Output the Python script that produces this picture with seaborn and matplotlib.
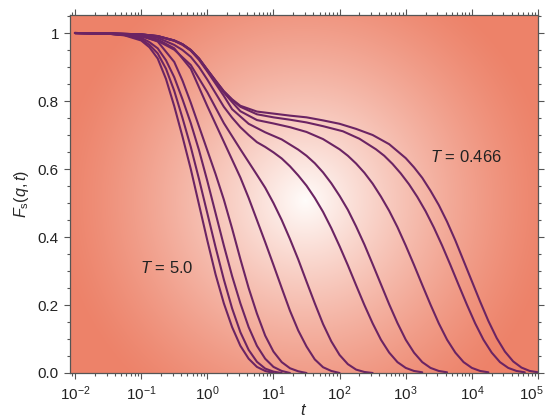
import numpy as np
import pandas as pd
import matplotlib
matplotlib.use("Agg")
import matplotlib.pyplot as plt
import matplotlib.ticker as mticker
import matplotlib.transforms as mtransforms
import seaborn as sns

# ── Data ─────────────────────────────────────────────────────────────────────
# x is stored as log10(t); y is F_s(q,t). One pair of arrays per temperature.
TEMPS = ["5.0", "4.0", "3.0", "2.0", "1.0", "0.8", "0.6", "0.55", "0.5", "0.475", "0.466"]

LOGT_T500 = [-2.0, -1.5, -1.25, -1.0, -0.875, -0.75, -0.625, -0.5, -0.375, -0.25, -0.125,
             0.0, 0.125, 0.25, 0.375, 0.5, 0.625, 0.75, 0.875, 1.0]
FS_T500 = [1.0, 0.998, 0.993, 0.978, 0.958, 0.925, 0.865, 0.785, 0.695, 0.60, 0.495,
           0.39, 0.29, 0.205, 0.135, 0.08, 0.042, 0.018, 0.006, 0.0]

LOGT_T400 = [-2.0, -1.5, -1.25, -1.0, -0.875, -0.75, -0.625, -0.5, -0.375, -0.25, -0.125,
             0.0, 0.125, 0.25, 0.375, 0.5, 0.625, 0.75, 0.875, 1.0, 1.125]
FS_T400 = [1.0, 0.998, 0.994, 0.982, 0.965, 0.94, 0.895, 0.83, 0.75, 0.665, 0.57,
           0.47, 0.37, 0.275, 0.19, 0.12, 0.068, 0.033, 0.013, 0.004, 0.0]

LOGT_T300 = [-2.0, -1.5, -1.25, -1.0, -0.875, -0.75, -0.625, -0.5, -0.375, -0.25, -0.125,
             0.0, 0.125, 0.25, 0.375, 0.5, 0.625, 0.75, 0.875, 1.0, 1.125, 1.25]
FS_T300 = [1.0, 0.999, 0.995, 0.986, 0.973, 0.955, 0.92, 0.87, 0.805, 0.735, 0.655,
           0.565, 0.47, 0.375, 0.285, 0.205, 0.135, 0.08, 0.042, 0.018, 0.006, 0.0]

LOGT_T200 = [-2.0, -1.5, -1.25, -1.0, -0.75, -0.5, -0.375, -0.25, -0.125, 0.0, 0.125,
             0.25, 0.375, 0.5, 0.625, 0.75, 0.875, 1.0, 1.125, 1.25, 1.375, 1.5]
FS_T200 = [1.0, 0.998, 0.996, 0.992, 0.975, 0.915, 0.86, 0.795, 0.725, 0.655, 0.585,
           0.51, 0.425, 0.335, 0.25, 0.175, 0.11, 0.063, 0.032, 0.014, 0.005, 0.0]

LOGT_T100 = [-2.0, -1.5, -1.0, -0.75, -0.5, -0.25, 0.0, 0.25, 0.5, 0.625, 0.75,
             0.875, 1.0, 1.125, 1.25, 1.375, 1.5, 1.625, 1.75, 1.875, 2.0]
FS_T100 = [1.0, 0.998, 0.992, 0.981, 0.955, 0.895, 0.785, 0.68, 0.575, 0.515, 0.45,
           0.385, 0.318, 0.25, 0.183, 0.125, 0.078, 0.04, 0.017, 0.006, 0.0]

LOGT_T080 = [-2.0, -1.5, -1.0, -0.75, -0.5, -0.25, 0.0, 0.25, 0.5, 0.75, 0.875, 1.0,
             1.125, 1.25, 1.375, 1.5, 1.625, 1.75, 1.875, 2.0, 2.125, 2.25, 2.375, 2.5]
FS_T080 = [1.0, 0.998, 0.990, 0.977, 0.951, 0.906, 0.826, 0.735, 0.658, 0.583, 0.545, 0.50,
           0.450, 0.394, 0.334, 0.269, 0.205, 0.144, 0.093, 0.053, 0.026, 0.010, 0.003, 0.0]

LOGT_T060 = [-2.0, -1.5, -1.0, -0.75, -0.5, -0.375, -0.25, -0.125, 0.0, 0.125, 0.25,
             0.375, 0.5, 0.625, 0.75, 0.875, 1.0, 1.125, 1.25, 1.375, 1.5, 1.625,
             1.75, 1.875, 2.0, 2.125, 2.25, 2.375, 2.5, 2.625, 2.75, 2.875, 3.0, 3.125, 3.25]
FS_T060 = [1.0, 0.999, 0.995, 0.986, 0.965, 0.950, 0.930, 0.900, 0.863, 0.823, 0.783,
           0.751, 0.723, 0.700, 0.679, 0.665, 0.649, 0.631, 0.608, 0.581, 0.551, 0.515,
           0.474, 0.426, 0.373, 0.317, 0.258, 0.200, 0.146, 0.098, 0.060, 0.032, 0.015, 0.006, 0.002]

LOGT_T055 = [-2.0, -1.5, -1.0, -0.75, -0.5, -0.375, -0.25, -0.125, 0.0, 0.125, 0.25,
             0.375, 0.625, 0.875, 1.125, 1.375, 1.5, 1.625, 1.75, 1.875, 2.0, 2.125,
             2.25, 2.375, 2.5, 2.625, 2.75, 2.875, 3.0, 3.125, 3.25, 3.375, 3.5, 3.625]
FS_T055 = [1.0, 0.999, 0.996, 0.990, 0.977, 0.965, 0.948, 0.921, 0.887, 0.851, 0.815,
           0.776, 0.733, 0.708, 0.687, 0.657, 0.639, 0.617, 0.590, 0.558, 0.521, 0.480,
           0.431, 0.378, 0.320, 0.261, 0.202, 0.147, 0.098, 0.060, 0.032, 0.015, 0.006, 0.002]

LOGT_T050 = [-2.0, -1.5, -1.0, -0.75, -0.5, -0.375, -0.25, -0.125, 0.0, 0.125, 0.25,
             0.375, 0.5, 0.75, 1.0, 1.25, 1.5, 1.75, 2.0, 2.125, 2.25, 2.375, 2.5,
             2.625, 2.75, 2.875, 3.0, 3.125, 3.25, 3.375, 3.5, 3.625, 3.75, 3.875,
             4.0, 4.125, 4.25]
FS_T050 = [1.0, 0.999, 0.996, 0.991, 0.978, 0.967, 0.95, 0.924, 0.891, 0.858, 0.825,
           0.797, 0.770, 0.744, 0.734, 0.723, 0.709, 0.688, 0.658, 0.639, 0.616, 0.589, 0.557,
           0.519, 0.477, 0.429, 0.375, 0.318, 0.259, 0.201, 0.146, 0.098, 0.060, 0.032,
           0.015, 0.006, 0.002]

LOGT_T0475 = [-2.0, -1.5, -1.0, -0.75, -0.5, -0.375, -0.25, -0.125, 0.0, 0.125, 0.25,
              0.375, 0.5, 0.75, 1.0, 1.25, 1.5, 1.75, 2.05, 2.3, 2.55, 2.675, 2.8,
              2.925, 3.05, 3.175, 3.3, 3.425, 3.55, 3.675, 3.8, 3.925, 4.05, 4.175,
              4.3, 4.425, 4.55, 4.675, 4.8]
FS_T0475 = [1.0, 0.999, 0.996, 0.991, 0.978, 0.967, 0.950, 0.925, 0.892, 0.86, 0.828,
            0.803, 0.783, 0.761, 0.752, 0.745, 0.737, 0.726, 0.711, 0.689, 0.658, 0.639, 0.615,
            0.587, 0.555, 0.518, 0.476, 0.428, 0.375, 0.318, 0.259, 0.201, 0.146, 0.098,
            0.060, 0.032, 0.015, 0.006, 0.002]

LOGT_T0466 = [-2.0, -1.5, -1.0, -0.75, -0.5, -0.375, -0.25, -0.125, 0.0, 0.125, 0.25,
              0.375, 0.5, 0.75, 1.0, 1.25, 1.5, 1.75, 2.0, 2.25, 2.5, 2.75, 3.0, 3.125,
              3.25, 3.375, 3.5, 3.625, 3.75, 3.875, 4.0, 4.125, 4.25, 4.375, 4.5, 4.625,
              4.75, 4.875, 5.0]
FS_T0466 = [1.0, 0.999, 0.996, 0.991, 0.978, 0.967, 0.950, 0.925, 0.892, 0.86, 0.829,
            0.805, 0.786, 0.769, 0.763, 0.757, 0.752, 0.743, 0.733, 0.718, 0.70, 0.673, 0.632, 0.605,
            0.574, 0.536, 0.494, 0.445, 0.39, 0.33, 0.27, 0.21, 0.153, 0.103, 0.063, 0.034,
            0.016, 0.006, 0.002]

CURVES = [
    (LOGT_T500, FS_T500), (LOGT_T400, FS_T400), (LOGT_T300, FS_T300),
    (LOGT_T200, FS_T200), (LOGT_T100, FS_T100), (LOGT_T080, FS_T080),
    (LOGT_T060, FS_T060), (LOGT_T055, FS_T055), (LOGT_T050, FS_T050),
    (LOGT_T0475, FS_T0475), (LOGT_T0466, FS_T0466),
]

X_DECADES = [-2, -1, 0, 1, 2, 3, 4, 5]
Y_TICKS = [0.0, 0.2, 0.4, 0.6, 0.8, 1.0]
Y_TICK_LABELS = ["0.0", "0.2", "0.4", "0.6", "0.8", "1"]

# ── Style ─────────────────────────────────────────────────────────────────────
sns.set_theme(style="ticks")
plt.rcParams["font.family"] = ["Liberation Sans", "DejaVu Sans"]
plt.rcParams["mathtext.fontset"] = "custom"
plt.rcParams["mathtext.rm"] = "Liberation Sans"
plt.rcParams["mathtext.it"] = "Liberation Sans:italic"
plt.rcParams["mathtext.bf"] = "Liberation Sans:bold"

LINE = "#6b2463"
SPINE = "#555555"
EDGE_RGB = np.array([237, 130, 105]) / 255.0
CENTRE_RGB = np.array([255, 252, 250]) / 255.0

rows = []
for temp, (logt, fs) in zip(TEMPS, CURVES):
    for lt, f in zip(logt, fs):
        rows.append({"T": temp, "t": 10.0 ** lt, "Fs": f})
df = pd.DataFrame(rows)

fig = plt.figure(figsize=(5.47, 4.2), dpi=100)
pos = [70 / 547, 47 / 420, 468 / 547, 358 / 420]

# radial glow behind the plot area
bg_ax = fig.add_axes(pos, zorder=0)
W, H = 468, 358
yy, xx = np.mgrid[0:H, 0:W]
r = np.hypot(xx - 235, yy - 185) / 250.0
frac = 1 - (1 - np.clip(r, 0, 1)) ** 1.3
bg = CENTRE_RGB[None, None, :] * (1 - frac[..., None]) + EDGE_RGB[None, None, :] * frac[..., None]
bg_ax.imshow(bg, aspect="auto", interpolation="bilinear")
bg_ax.set_axis_off()

ax = fig.add_axes(pos, zorder=1)
ax.set_facecolor("none")
ax.set_xscale("log")

sns.lineplot(
    data=df, x="t", y="Fs", hue="T", hue_order=TEMPS,
    palette=[LINE] * len(TEMPS), estimator=None, sort=False,
    linewidth=1.5, legend=False, ax=ax,
)

ax.set_xlim(10 ** -2.076, 10 ** 5.0)
ax.set_ylim(0, 1.053)

ax.xaxis.set_major_locator(mticker.FixedLocator([10.0 ** d for d in X_DECADES]))
ax.xaxis.set_major_formatter(
    mticker.FixedFormatter([f"$10^{{{d}}}$" for d in X_DECADES]))
ax.xaxis.set_minor_locator(mticker.LogLocator(base=10, subs=np.arange(2, 10), numticks=12))
ax.xaxis.set_minor_formatter(mticker.NullFormatter())
ax.yaxis.set_major_locator(mticker.FixedLocator(Y_TICKS))
ax.yaxis.set_major_formatter(mticker.FixedFormatter(Y_TICK_LABELS))
ax.yaxis.set_minor_locator(mticker.MultipleLocator(0.05))

ax.tick_params(which="both", direction="out", top=True, right=True,
               color=SPINE, width=0.8, labelsize=11, labelcolor="#222222")
ax.tick_params(which="major", length=4.5)
ax.tick_params(which="minor", length=2.5)
for s in ax.spines.values():
    s.set_color(SPINE)
    s.set_linewidth(0.9)

# keep the 10^5 label inside the canvas
last = ax.get_xticklabels()[-1]
last.set_transform(last.get_transform() + mtransforms.ScaledTranslation(-7 / 100, 0, fig.dpi_scale_trans))

ax.set_xlabel("$t$", fontsize=12, labelpad=0)
ax.set_ylabel(r"$F_{\mathrm{s}}(q,t)$", fontsize=11.5, labelpad=5)

ax.text(10 ** -0.61, 0.31, "$T$ = 5.0", ha="center", va="center", fontsize=12, color="#222222")
ax.text(10 ** 3.91, 0.635, "$T$ = 0.466", ha="center", va="center", fontsize=12, color="#222222")

fig.savefig("out.png", dpi=100)
